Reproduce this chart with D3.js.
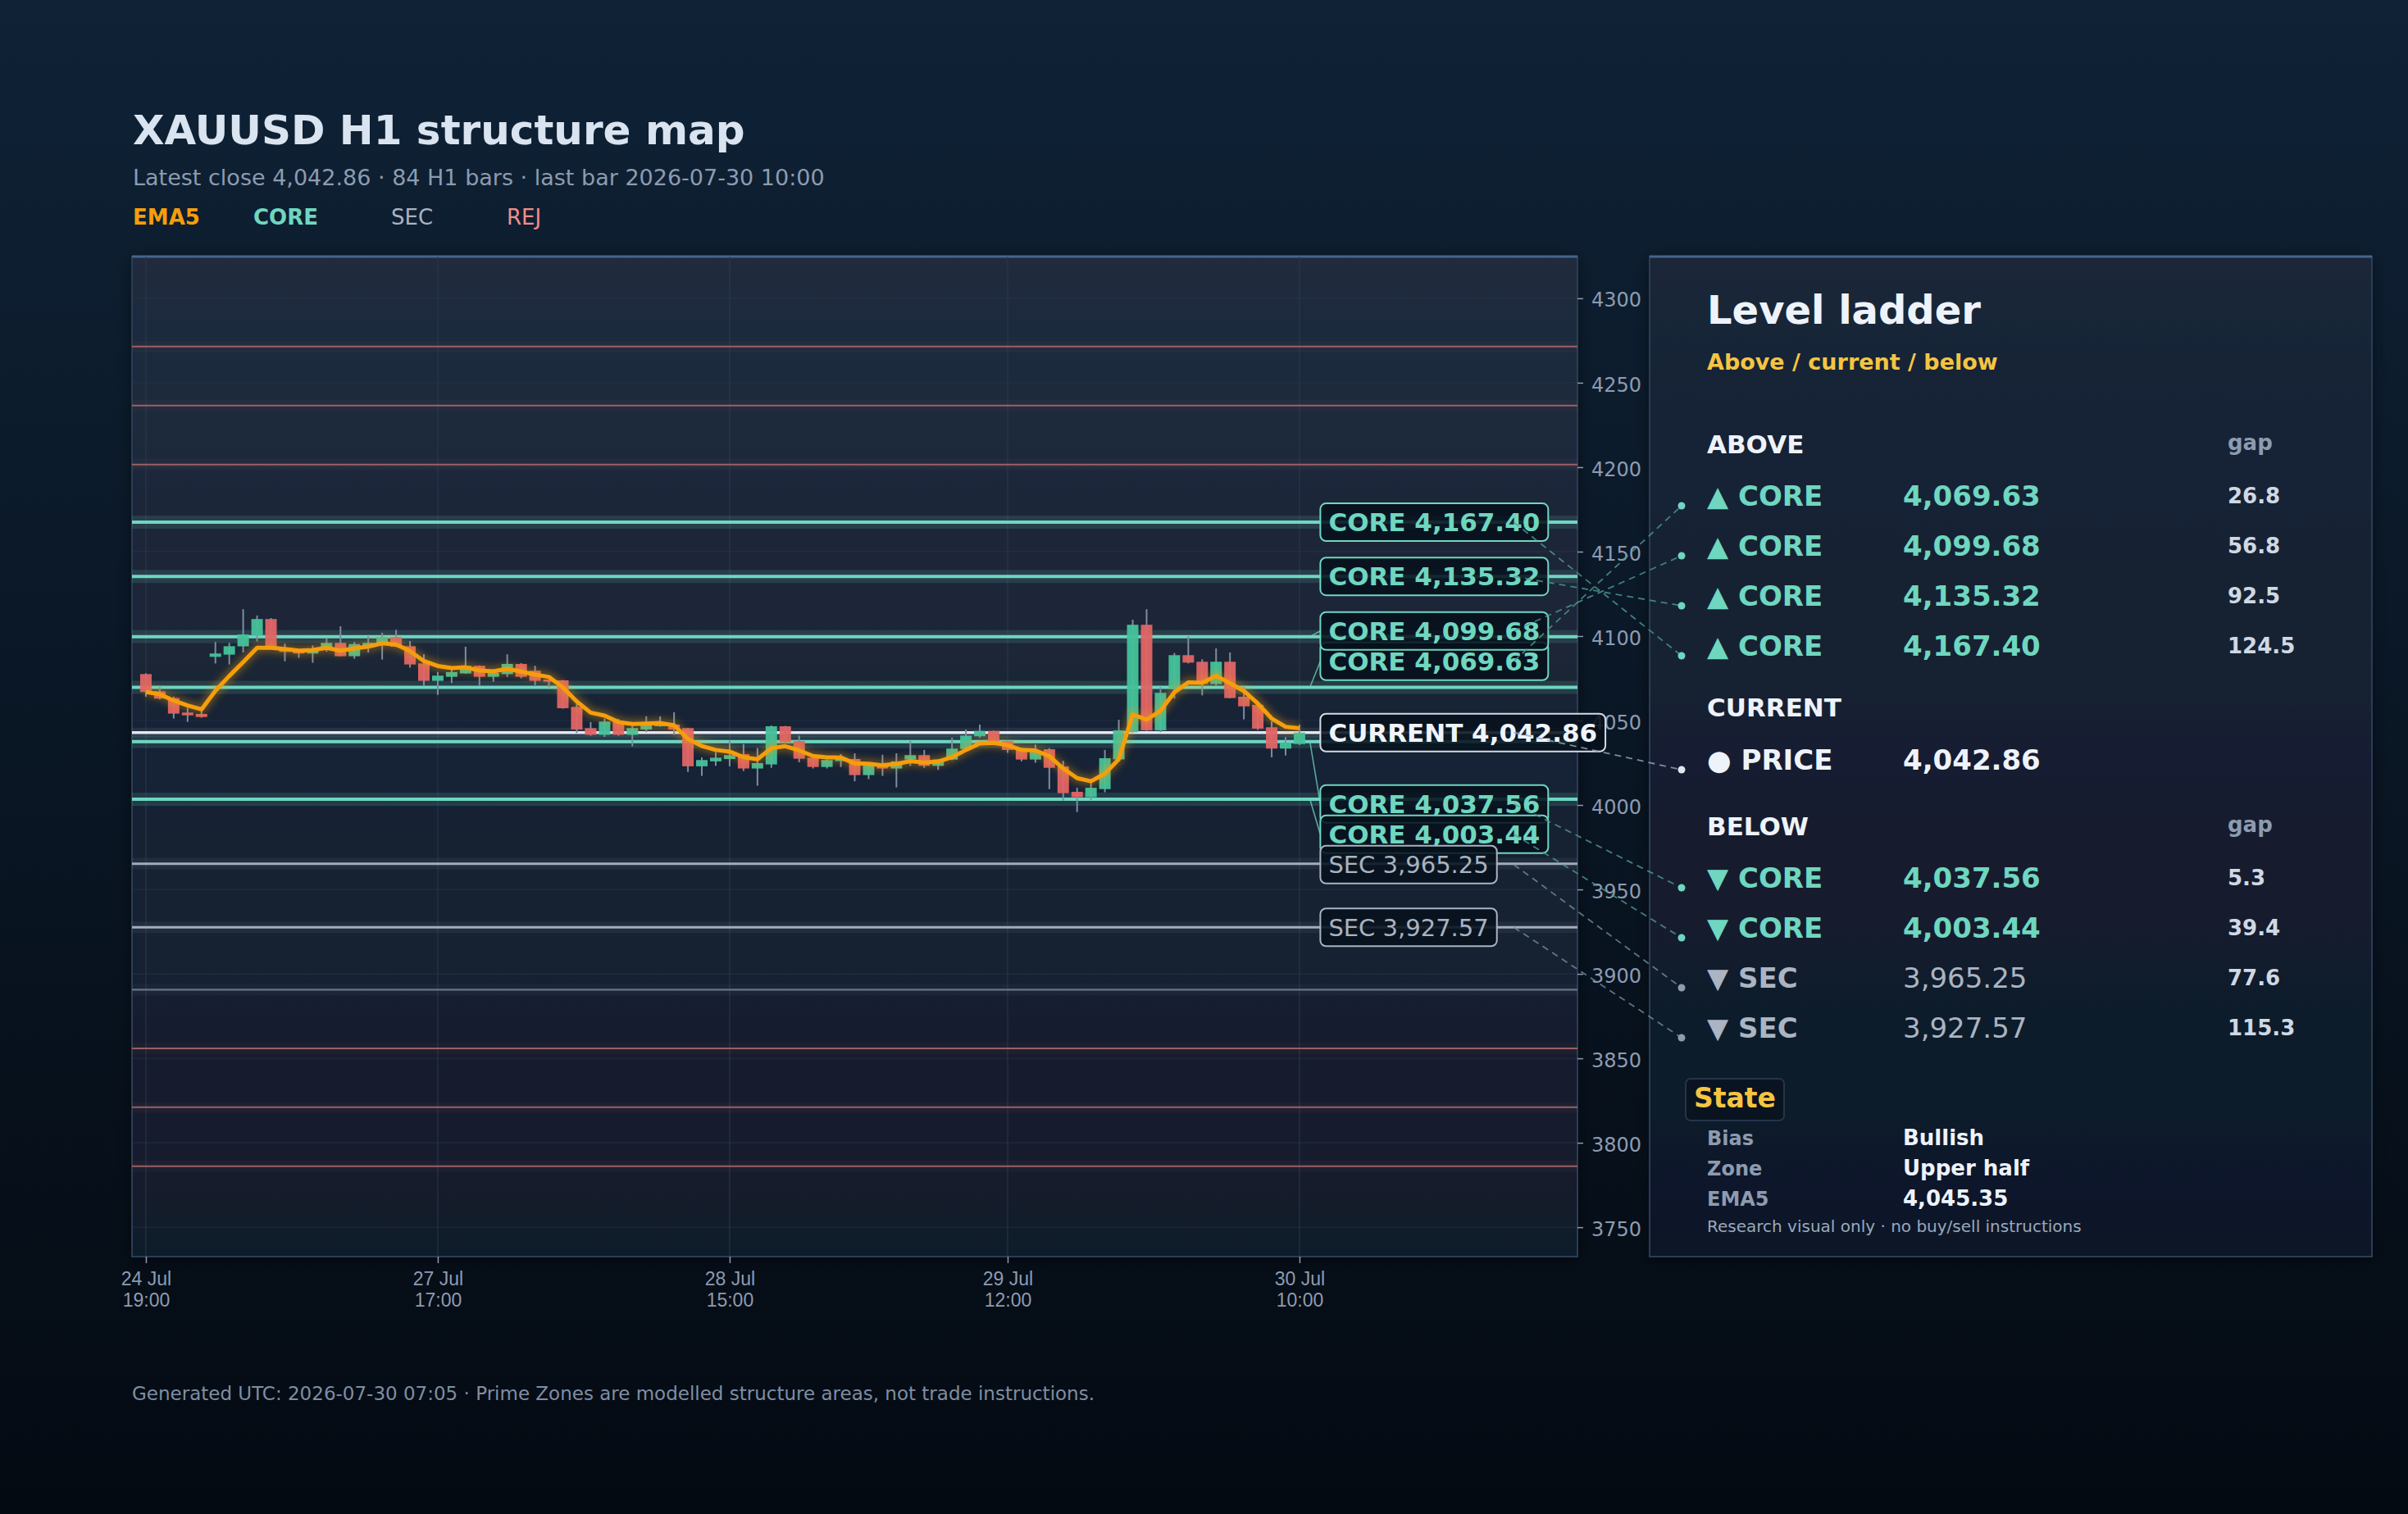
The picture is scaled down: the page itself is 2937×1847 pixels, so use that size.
<!DOCTYPE html>
<html>
<head>
<meta charset="utf-8">
<script src="https://cdn.jsdelivr.net/npm/d3@7"></script>
<style>
  html, body { margin: 0; padding: 0; background: #050b14; }
  svg { display: block; font-family: "DejaVu Sans", sans-serif; }
</style>
</head>
<body>
<svg id="chart" width="2937" height="1847"></svg>
<script>
// ---- data ----
const opens  = [4077.5,4067.3,4063.3,4054.7,4053.9,4087.7,4089.0,4093.9,4100.2,4110.1,4093.2,4091.3,4089.7,4092.4,4096.0,4088.1,4093.2,4096.1,4099.4,4094.0,4083.8,4073.5,4075.9,4077.9,4082.4,4075.9,4077.5,4083.5,4079.5,4074.3,4073.8,4058.1,4045.5,4041.5,4049.4,4041.5,4044.7,4046.6,4047.6,4045.5,4022.9,4025.8,4027.2,4030.1,4021.6,4024.0,4046.6,4037.9,4028.0,4022.5,4026.0,4027.2,4017.7,4023.7,4021.6,4026.9,4029.5,4023.2,4026.9,4033.1,4040.7,4043.9,4037.9,4032.9,4026.9,4033.0,4022.8,4007.8,4004.6,4009.4,4027.0,4043.1,4106.7,4044.2,4068.6,4088.7,4084.8,4071.6,4084.8,4064.1,4059.3,4046.0,4033.4,4036.1];
const highs  = [4078.0,4069.8,4064.1,4057.6,4056.0,4096.5,4096.0,4115.9,4112.2,4110.7,4095.5,4091.5,4094.5,4098.9,4105.8,4096.5,4100.0,4102.0,4103.7,4097.1,4089.2,4078.7,4080.2,4093.7,4082.6,4080.3,4089.2,4084.0,4082.4,4074.5,4074.0,4060.1,4049.1,4051.2,4051.0,4046.8,4052.5,4052.5,4054.9,4045.7,4028.2,4031.3,4038.2,4036.1,4033.7,4047.1,4046.8,4041.1,4028.2,4027.0,4030.1,4030.6,4025.3,4029.7,4030.6,4037.9,4032.6,4027.0,4039.8,4044.7,4047.6,4044.1,4038.1,4033.1,4035.8,4033.7,4026.1,4010.2,4013.1,4032.6,4050.4,4109.7,4115.9,4069.8,4090.0,4100.0,4086.3,4092.7,4090.3,4069.8,4059.5,4049.5,4040.2,4047.6];
const lows   = [4064.1,4062.5,4051.2,4049.2,4051.7,4083.8,4083.2,4090.3,4096.8,4093.0,4085.1,4087.1,4084.2,4090.8,4087.9,4086.6,4090.3,4086.1,4093.5,4081.3,4070.6,4065.2,4072.2,4077.7,4070.6,4073.0,4075.8,4075.0,4070.9,4069.8,4057.0,4042.6,4041.0,4040.3,4041.0,4034.7,4043.1,4046.3,4041.5,4019.6,4017.2,4023.2,4022.9,4020.1,4011.4,4022.0,4036.9,4025.3,4021.6,4021.6,4022.5,4014.0,4015.3,4017.2,4010.4,4023.2,4022.0,4020.8,4026.5,4032.9,4039.8,4037.5,4030.9,4025.8,4025.0,4009.4,4002.6,3995.8,4003.0,4007.5,4026.8,4042.9,4043.9,4043.1,4063.0,4083.8,4064.9,4070.3,4063.1,4050.7,4044.4,4028.2,4029.3,4035.5];
const closes = [4066.9,4063.0,4054.1,4053.1,4052.1,4089.7,4094.0,4101.0,4110.1,4093.2,4090.6,4089.7,4092.4,4096.0,4088.1,4095.3,4096.0,4099.4,4093.7,4083.2,4073.5,4076.6,4078.7,4082.4,4075.9,4078.2,4083.5,4075.9,4073.5,4073.0,4057.3,4044.7,4041.5,4049.4,4041.5,4045.5,4048.7,4049.1,4044.7,4022.9,4026.6,4028.0,4029.5,4021.6,4024.8,4046.6,4037.1,4027.4,4022.5,4026.6,4028.0,4017.7,4024.0,4021.6,4025.8,4029.5,4023.2,4026.9,4033.4,4041.1,4043.9,4037.7,4032.6,4026.9,4031.8,4022.0,4007.0,4004.6,4010.2,4027.7,4044.2,4106.7,4044.2,4066.4,4088.7,4084.3,4071.6,4084.8,4063.3,4058.4,4045.2,4033.4,4036.6,4042.86];
const ema5   = [4066.9,4065.6,4061.8,4058.9,4056.6,4067.6,4076.4,4084.6,4093.1,4093.1,4092.3,4091.4,4091.7,4093.1,4091.4,4092.7,4093.8,4095.7,4095.0,4091.1,4085.2,4082.3,4081.1,4081.5,4079.6,4079.1,4080.6,4079.0,4077.2,4075.8,4069.6,4061.3,4054.7,4052.9,4049.1,4047.9,4048.2,4048.5,4047.2,4039.1,4034.9,4032.6,4031.6,4028.3,4027.1,4033.6,4034.8,4032.3,4029.0,4028.2,4028.1,4024.6,4024.4,4023.5,4024.3,4026.0,4025.1,4025.7,4028.3,4032.6,4036.4,4036.8,4035.4,4032.6,4032.3,4028.9,4021.6,4015.9,4014.0,4018.6,4027.1,4053.6,4050.5,4055.8,4066.8,4072.6,4072.3,4076.5,4072.1,4067.5,4060.1,4051.2,4046.3,4045.35];

const coreLevels  = [4167.40, 4135.32, 4099.68, 4069.63, 4037.56, 4003.44];
const secLevels   = [3965.25, 3927.57];
const minorLevels = [3890.6];
const rejLevels   = [4271.4, 4236.5, 4201.6, 3855.9, 3821.0, 3786.1];
const currentPrice = 4042.86;

const xTickIdx   = [0, 21, 42, 62, 83];
const xTickDates = ['24 Jul', '27 Jul', '28 Jul', '29 Jul', '30 Jul'];
const xTickTimes = ['19:00', '17:00', '15:00', '12:00', '10:00'];
const yTicks = [3750, 3800, 3850, 3900, 3950, 4000, 4050, 4100, 4150, 4200, 4250, 4300];

const stateLabels = ['Bias', 'Zone', 'EMA5'];
const stateValues = ['Bullish', 'Upper half', '4,045.35'];

// ---- layout ----
const plot   = { x0: 161, x1: 1924, y0: 313, y1: 1533 };
const ladder = { x0: 2012, x1: 2893, y0: 313, y1: 1533 };
const C = {
  core: '#6fd6c0', sec: '#a9b3c1', rej: '#a9676b', minor: '#6d7a8b', cur: '#e3e9f1',
  up: '#45c29a', down: '#e06565', wick: '#7f8ba0', ema: '#f59e0b',
  muted: '#8d9bb0', white: '#eef3fa', yellow: '#f5c542'
};
const fmt = d3.format(',.2f');

const svg = d3.select('#chart');
const defs = svg.append('defs');

function vGrad(id, top, bottom) {
  const g = defs.append('linearGradient').attr('id', id)
    .attr('x1', 0).attr('y1', 0).attr('x2', 0).attr('y2', 1);
  g.append('stop').attr('offset', '0%').attr('stop-color', top);
  g.append('stop').attr('offset', '100%').attr('stop-color', bottom);
}
vGrad('bgGrad', '#0f2236', '#040a12');
vGrad('plotGrad', '#202c3e', '#111b2b');
vGrad('ladGrad', '#1a2638', '#0e1828');

const glow = defs.append('filter').attr('id', 'glow')
  .attr('x', '-5%').attr('y', '-20%').attr('width', '110%').attr('height', '140%');
glow.append('feGaussianBlur').attr('stdDeviation', 4);

const shadow = defs.append('filter').attr('id', 'shadow')
  .attr('x', '-5%').attr('y', '-5%').attr('width', '110%').attr('height', '110%');
shadow.append('feDropShadow').attr('dx', 0).attr('dy', 4).attr('stdDeviation', 10)
  .attr('flood-color', '#000').attr('flood-opacity', 0.45);

defs.append('clipPath').attr('id', 'plotClip').append('rect')
  .attr('x', plot.x0).attr('y', plot.y0)
  .attr('width', plot.x1 - plot.x0).attr('height', plot.y1 - plot.y0);

svg.append('rect').attr('width', 2937).attr('height', 1847).attr('fill', 'url(#bgGrad)');

// ---- header ----
svg.append('text').attr('x', 162).attr('y', 176)
  .attr('font-size', 50).attr('font-weight', 'bold').attr('fill', '#d9e4f0')
  .text('XAUUSD H1 structure map');
svg.append('text').attr('x', 162).attr('y', 226)
  .attr('font-size', 27).attr('fill', C.muted)
  .text('Latest close 4,042.86 · 84 H1 bars · last bar 2026-07-30 10:00');

const legend = [
  { t: 'EMA5', c: C.ema, w: 'bold', x: 162 },
  { t: 'CORE', c: C.core, w: 'bold', x: 309 },
  { t: 'SEC', c: C.sec, w: 'normal', x: 477 },
  { t: 'REJ', c: '#f08c8c', w: 'normal', x: 618 }
];
svg.selectAll('.legend').data(legend).join('text')
  .attr('x', d => d.x).attr('y', 274)
  .attr('font-size', 26).attr('font-weight', d => d.w).attr('fill', d => d.c)
  .text(d => d.t);

// ---- panels ----
function panel(r, fill) {
  svg.append('rect').attr('x', r.x0).attr('y', r.y0)
    .attr('width', r.x1 - r.x0).attr('height', r.y1 - r.y0)
    .attr('fill', fill).attr('stroke', '#2c3e56').attr('stroke-width', 2)
    .attr('filter', 'url(#shadow)');
  svg.append('line').attr('x1', r.x0).attr('x2', r.x1).attr('y1', r.y0).attr('y2', r.y0)
    .attr('stroke', '#46658c').attr('stroke-width', 3);
}
panel(plot, 'url(#plotGrad)');
panel(ladder, 'url(#ladGrad)');

const x = d3.scaleLinear().domain([-1, 103]).range([plot.x0, plot.x1]);
const y = d3.scaleLinear().domain([3732.6, 4324.7]).range([plot.y1, plot.y0]);

const g = svg.append('g').attr('clip-path', 'url(#plotClip)');

// grid
g.selectAll('.vgrid').data(xTickIdx).join('line')
  .attr('x1', d => x(d)).attr('x2', d => x(d)).attr('y1', plot.y0).attr('y2', plot.y1)
  .attr('stroke', '#2b3b52').attr('stroke-width', 1.5).attr('opacity', 0.6);
g.selectAll('.hgrid').data(yTicks).join('line')
  .attr('x1', plot.x0).attr('x2', plot.x1).attr('y1', d => y(d)).attr('y2', d => y(d))
  .attr('stroke', '#2b3b52').attr('stroke-width', 1.2).attr('opacity', 0.45);

// level bands and lines
function levels(arr, color, bandH, bandOp, lw, op) {
  const lg = g.append('g');
  lg.selectAll('rect').data(arr).join('rect')
    .attr('x', plot.x0).attr('width', plot.x1 - plot.x0)
    .attr('y', d => y(d) - bandH / 2).attr('height', bandH)
    .attr('fill', color).attr('opacity', bandOp);
  lg.selectAll('line').data(arr).join('line')
    .attr('x1', plot.x0).attr('x2', plot.x1).attr('y1', d => y(d)).attr('y2', d => y(d))
    .attr('stroke', color).attr('stroke-width', lw).attr('opacity', op);
}
levels(rejLevels, C.rej, 14, 0.06, 2, 0.9);
levels(minorLevels, C.minor, 14, 0.07, 2.2, 0.95);
levels(secLevels, C.sec, 14, 0.08, 3, 0.95);
levels(coreLevels, C.core, 16, 0.14, 4, 1);
levels([currentPrice], C.cur, 12, 0.08, 3.5, 1);

// candles
const idx = d3.range(closes.length);
const bw = 14;
g.selectAll('.wick').data(idx).join('line')
  .attr('x1', i => x(i)).attr('x2', i => x(i))
  .attr('y1', i => y(highs[i])).attr('y2', i => y(lows[i]))
  .attr('stroke', C.wick).attr('stroke-width', 2);
g.selectAll('.body').data(idx).join('rect')
  .attr('x', i => x(i) - bw / 2).attr('width', bw)
  .attr('y', i => y(Math.max(opens[i], closes[i])))
  .attr('height', i => Math.max(2, Math.abs(y(opens[i]) - y(closes[i]))))
  .attr('fill', i => closes[i] >= opens[i] ? C.up : C.down).attr('opacity', 0.95);

// EMA5
const emaLine = d3.line().x((d, i) => x(i)).y(d => y(d));
g.append('path').datum(ema5).attr('d', emaLine).attr('fill', 'none')
  .attr('stroke', C.ema).attr('stroke-width', 12).attr('opacity', 0.35)
  .attr('filter', 'url(#glow)');
g.append('path').datum(ema5).attr('d', emaLine).attr('fill', 'none')
  .attr('stroke', C.ema).attr('stroke-width', 5).attr('stroke-linejoin', 'round');

// ---- axes ----
const yAxis = svg.append('g').attr('transform', `translate(${plot.x1},0)`)
  .call(d3.axisRight(y).tickValues(yTicks).tickSize(7).tickPadding(10).tickFormat(d3.format('d')));
yAxis.select('.domain').remove();
yAxis.selectAll('line').attr('stroke', C.muted).attr('stroke-width', 1.5);
yAxis.selectAll('text').attr('fill', C.muted).attr('font-size', 24).attr('dy', '0.42em')
  .attr('font-family', '"DejaVu Sans", sans-serif');

const xAxis = svg.append('g').attr('transform', `translate(0,${plot.y1})`)
  .call(d3.axisBottom(x).tickValues(xTickIdx).tickSize(8).tickFormat(''));
xAxis.select('.domain').remove();
xAxis.selectAll('line').attr('stroke', C.muted).attr('stroke-width', 1.5);
xAxis.selectAll('.tick').each(function (d, i) {
  const t = d3.select(this);
  t.append('text').attr('y', 35).attr('text-anchor', 'middle').attr('fill', C.muted)
    .attr('font-size', 23).text(xTickDates[i]);
  t.append('text').attr('y', 61).attr('text-anchor', 'middle').attr('fill', C.muted)
    .attr('font-size', 23).text(xTickTimes[i]);
});

// ---- level labels with simple collision push ----
const GAP_CUR = 87, GAP = 37;
const labelled = coreLevels.map(p => ({ price: p, kind: 'CORE' }))
  .concat(secLevels.map(p => ({ price: p, kind: 'SEC' })));
const above = labelled.filter(d => d.price > currentPrice).sort((a, b) => a.price - b.price);
const below = labelled.filter(d => d.price < currentPrice).sort((a, b) => b.price - a.price);
const cur = { price: currentPrice, kind: 'CURRENT', ly: y(currentPrice) };

let prev = cur.ly;
above.forEach((d, i) => { d.ly = Math.min(y(d.price), prev - (i === 0 ? GAP_CUR : GAP)); prev = d.ly; });
prev = cur.ly;
below.forEach((d, i) => { d.ly = Math.max(y(d.price), prev + (i === 0 ? GAP_CUR : GAP)); prev = d.ly; });

const style = {
  CORE:    { color: C.core, weight: 'bold', size: 31 },
  SEC:     { color: C.sec, weight: 'normal', size: 29 },
  CURRENT: { color: '#f0f4fa', weight: 'bold', size: 31 }
};

const labelX = x(84.5), leaderX = x(83.75), connX = labelX + 236;
const allLabels = above.concat([cur], below);

// leaders from line to displaced label
svg.selectAll('.leader').data(allLabels.filter(d => Math.abs(d.ly - y(d.price)) > 2)).join('line')
  .attr('x1', leaderX).attr('y1', d => y(d.price)).attr('x2', labelX).attr('y2', d => d.ly)
  .attr('stroke', d => style[d.kind].color).attr('stroke-width', 1.6).attr('opacity', 0.75);

allLabels.forEach(d => {
  const s = style[d.kind];
  const lg = svg.append('g');
  const box = lg.append('rect');
  const txt = lg.append('text').attr('x', labelX + 10).attr('y', d.ly + s.size * 0.36)
    .attr('font-size', s.size).attr('font-weight', s.weight).attr('fill', s.color)
    .text(d.kind + ' ' + fmt(d.price));
  const w = txt.node().getComputedTextLength();
  box.attr('x', labelX).attr('y', d.ly - 23).attr('width', w + 20).attr('height', 46)
    .attr('rx', 7).attr('fill', '#07111c').attr('fill-opacity', 0.88)
    .attr('stroke', d.kind === 'CURRENT' ? '#d3dbe5' : s.color).attr('stroke-width', 2);
});

// ---- ladder ----
const LX = ladder.x0 + 70, VX = 2321, GX = 2717, DOTX = 2051, ROW = 61;
function txt(xp, yp, size, weight, color, t) {
  return svg.append('text').attr('x', xp).attr('y', yp).attr('font-size', size)
    .attr('font-weight', weight).attr('fill', color).text(t);
}
txt(LX, 395, 48, 'bold', C.white, 'Level ladder');
txt(LX, 451, 27, 'bold', C.yellow, 'Above / current / below');
txt(LX, 553, 31, 'bold', C.white, 'ABOVE');
txt(GX, 549, 26, 'bold', C.muted, 'gap');
txt(LX, 874, 31, 'bold', C.white, 'CURRENT');
txt(LX, 1019, 31, 'bold', C.white, 'BELOW');
txt(GX, 1015, 26, 'bold', C.muted, 'gap');

above.forEach((d, i) => { d.ry = 617 + i * ROW; d.arrow = '▲'; });
below.forEach((d, i) => { d.ry = 1083 + i * ROW; d.arrow = '▼'; });
cur.ry = 939;

const rows = above.concat(below);
// dashed connectors from chart labels to the ladder
svg.selectAll('.conn').data(allLabels).join('line')
  .attr('x1', connX).attr('y1', d => d.ly).attr('x2', DOTX).attr('y2', d => d.ry)
  .attr('stroke', d => d.kind === 'CURRENT' ? '#9aa6b6' : (d.kind === 'SEC' ? '#6f8f98' : '#4f9a90'))
  .attr('stroke-width', 1.8).attr('stroke-dasharray', '8 6').attr('opacity', 0.8);
svg.selectAll('.dot').data(allLabels).join('circle')
  .attr('cx', DOTX).attr('cy', d => d.ry).attr('r', 4.5)
  .attr('fill', d => d.kind === 'CURRENT' ? '#dfe6ee' : (d.kind === 'SEC' ? '#8f9cad' : C.core));

rows.forEach(d => {
  const col = d.kind === 'CORE' ? C.core : '#aab4c3';
  txt(LX, d.ry, 34, 'bold', col, d.arrow + ' ' + d.kind);
  txt(VX, d.ry, 34, d.kind === 'CORE' ? 'bold' : 'normal', col, fmt(d.price));
  txt(GX, d.ry - 3, 26, 'bold', '#d0d8e4', d3.format('.1f')(Math.abs(d.price - currentPrice)));
});
txt(LX, cur.ry, 34, 'bold', C.white, '● PRICE');
txt(VX, cur.ry, 34, 'bold', C.white, fmt(currentPrice));

// state block
svg.append('rect').attr('x', 2056).attr('y', 1316).attr('width', 120).attr('height', 51)
  .attr('rx', 6).attr('fill', '#0a1320').attr('stroke', '#24344a').attr('stroke-width', 2);
txt(2066, 1351, 33, 'bold', C.yellow, 'State');
stateLabels.forEach((l, i) => {
  const yy = 1397 + i * 37;
  txt(LX, yy, 24, 'bold', C.muted, l);
  txt(VX, yy, 26, 'bold', C.white, stateValues[i]);
});
txt(LX, 1503, 20, 'normal', '#9aa8ba', 'Research visual only · no buy/sell instructions');

// footer
txt(161, 1708, 23, 'normal', '#7f8ea3',
  'Generated UTC: 2026-07-30 07:05 · Prime Zones are modelled structure areas, not trade instructions.');
</script>
</body>
</html>
